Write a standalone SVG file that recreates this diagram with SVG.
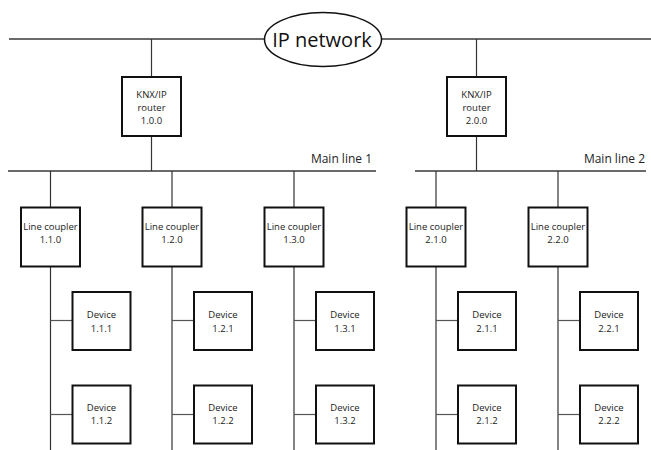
<svg xmlns="http://www.w3.org/2000/svg" width="651" height="450" viewBox="0 0 651 450">
<style>
.box{fill:#fff;stroke:#111;stroke-width:2}
.bus{stroke:#6a6a6a;stroke-width:2;fill:none}
.ln{stroke:#333;stroke-width:1.2;fill:none}
.stub{stroke:#555;stroke-width:1.2;fill:none}
text{font-family:"Open Sans","Noto Sans",sans-serif;fill:#222;text-anchor:middle}
.s{font-size:9.5px}
.m{font-size:12px;text-anchor:end}
</style>
<rect width="651" height="450" fill="#fff"/>
<g id="connectors">
<line class="bus" x1="9" y1="39" x2="651" y2="39"/>
<line class="bus" x1="8" y1="171" x2="376" y2="171"/>
<line class="bus" x1="415" y1="171" x2="646" y2="171"/>
<line class="ln" x1="151.5" y1="39" x2="151.5" y2="171"/>
<line class="ln" x1="476.5" y1="39" x2="476.5" y2="171"/>
<line class="ln" x1="50.5" y1="171" x2="50.5" y2="450"/>
<line class="ln" x1="172" y1="171" x2="172" y2="450"/>
<line class="ln" x1="294" y1="171" x2="294" y2="450"/>
<line class="ln" x1="436" y1="171" x2="436" y2="450"/>
<line class="ln" x1="558" y1="171" x2="558" y2="450"/>
<line class="stub" x1="50.5" y1="320.5" x2="72.5" y2="320.5"/>
<line class="stub" x1="50.5" y1="414.5" x2="72.5" y2="414.5"/>
<line class="stub" x1="172" y1="320.5" x2="194" y2="320.5"/>
<line class="stub" x1="172" y1="414.5" x2="194" y2="414.5"/>
<line class="stub" x1="294" y1="320.5" x2="316" y2="320.5"/>
<line class="stub" x1="294" y1="414.5" x2="316" y2="414.5"/>
<line class="stub" x1="436" y1="320.5" x2="458" y2="320.5"/>
<line class="stub" x1="436" y1="414.5" x2="458" y2="414.5"/>
<line class="stub" x1="558" y1="320.5" x2="580" y2="320.5"/>
<line class="stub" x1="558" y1="414.5" x2="580" y2="414.5"/>
</g>
<g id="ip-network">
<ellipse cx="323" cy="39.5" rx="58.5" ry="27" fill="#fff" stroke="#111" stroke-width="1.5"/>
<text x="322" y="46.5" style="font-size:20px;fill:#111">IP network</text>
</g>
<g id="main-line-1"><text class="m" x="372" y="163">Main line 1</text></g>
<g id="main-line-2"><text class="m" x="645" y="163">Main line 2</text></g>
<g id="router-1">
<rect class="box" x="122" y="77" width="59" height="59"/>
<text class="s" x="151.5" y="97.5">KNX/IP</text>
<text class="s" x="151.5" y="110.5">router</text>
<text class="s" x="151.5" y="123.5">1.0.0</text>
</g>
<g id="router-2">
<rect class="box" x="447" y="77" width="59" height="59"/>
<text class="s" x="476.5" y="97.5">KNX/IP</text>
<text class="s" x="476.5" y="110.5">router</text>
<text class="s" x="476.5" y="123.5">2.0.0</text>
</g>
<g id="coupler-1-1-0">
<rect class="box" x="21" y="207.5" width="59" height="59"/>
<text class="s" x="50.5" y="230">Line coupler</text>
<text class="s" x="50.5" y="243">1.1.0</text>
</g>
<g id="coupler-1-2-0">
<rect class="box" x="142.5" y="207.5" width="59" height="59"/>
<text class="s" x="172" y="230">Line coupler</text>
<text class="s" x="172" y="243">1.2.0</text>
</g>
<g id="coupler-1-3-0">
<rect class="box" x="264.5" y="207.5" width="59" height="59"/>
<text class="s" x="294" y="230">Line coupler</text>
<text class="s" x="294" y="243">1.3.0</text>
</g>
<g id="coupler-2-1-0">
<rect class="box" x="406.5" y="207.5" width="59" height="59"/>
<text class="s" x="436" y="230">Line coupler</text>
<text class="s" x="436" y="243">2.1.0</text>
</g>
<g id="coupler-2-2-0">
<rect class="box" x="528.5" y="207.5" width="59" height="59"/>
<text class="s" x="558" y="230">Line coupler</text>
<text class="s" x="558" y="243">2.2.0</text>
</g>
<g id="device-1-1-1"><rect class="box" x="72.5" y="292" width="58" height="58"/><text class="s" x="101.5" y="318">Device</text><text class="s" x="101.5" y="331.5">1.1.1</text></g>
<g id="device-1-1-2"><rect class="box" x="72.5" y="385.5" width="58" height="58"/><text class="s" x="101.5" y="411">Device</text><text class="s" x="101.5" y="424">1.1.2</text></g>
<g id="device-1-2-1"><rect class="box" x="194" y="292" width="58" height="58"/><text class="s" x="223" y="318">Device</text><text class="s" x="223" y="331.5">1.2.1</text></g>
<g id="device-1-2-2"><rect class="box" x="194" y="385.5" width="58" height="58"/><text class="s" x="223" y="411">Device</text><text class="s" x="223" y="424">1.2.2</text></g>
<g id="device-1-3-1"><rect class="box" x="316" y="292" width="58" height="58"/><text class="s" x="345" y="318">Device</text><text class="s" x="345" y="331.5">1.3.1</text></g>
<g id="device-1-3-2"><rect class="box" x="316" y="385.5" width="58" height="58"/><text class="s" x="345" y="411">Device</text><text class="s" x="345" y="424">1.3.2</text></g>
<g id="device-2-1-1"><rect class="box" x="458" y="292" width="58" height="58"/><text class="s" x="487" y="318">Device</text><text class="s" x="487" y="331.5">2.1.1</text></g>
<g id="device-2-1-2"><rect class="box" x="458" y="385.5" width="58" height="58"/><text class="s" x="487" y="411">Device</text><text class="s" x="487" y="424">2.1.2</text></g>
<g id="device-2-2-1"><rect class="box" x="580" y="292" width="58" height="58"/><text class="s" x="609" y="318">Device</text><text class="s" x="609" y="331.5">2.2.1</text></g>
<g id="device-2-2-2"><rect class="box" x="580" y="385.5" width="58" height="58"/><text class="s" x="609" y="411">Device</text><text class="s" x="609" y="424">2.2.2</text></g>
</svg>
